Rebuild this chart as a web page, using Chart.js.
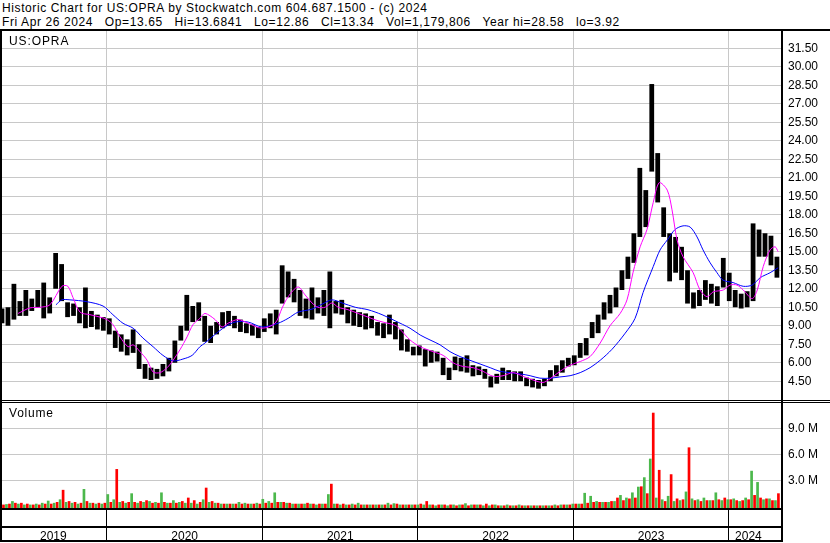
<!DOCTYPE html>
<html>
<head>
<meta charset="utf-8">
<script src="https://cdn.jsdelivr.net/npm/chart.js@4.4.1/dist/chart.umd.min.js"></script>
<style>
body { margin:0; background:#fff; width:830px; height:543px; overflow:hidden; position:relative;
       font-family:"Liberation Sans", Arial, sans-serif; font-size:12px; color:#000; }
.abs { position:absolute; letter-spacing:0.6px; }
#hdr { left:2px; top:1px; line-height:14px; white-space:pre; }
.ln { position:absolute; background:#000; }
canvas { position:absolute; left:0; }
</style>
</head>
<body>
<div id="hdr" class="abs">Historic Chart for US:OPRA by Stockwatch.com 604.687.1500 - (c) 2024
Fri Apr 26 2024   Op=13.65   Hi=13.6841   Lo=12.86   Cl=13.34   Vol=1,179,806   Year hi=28.58   lo=3.92</div>
<canvas id="price" width="830" height="369" style="top:31px"></canvas>
<canvas id="vol" width="830" height="139" style="top:403px"></canvas>
<div class="abs" style="left:9px;top:34px;letter-spacing:0.9px">US:OPRA</div>
<div class="abs" style="left:9px;top:406px;letter-spacing:0.8px">Volume</div>
<div class="ln" style="left:0;top:29px;width:830px;height:2px"></div>
<div class="ln" style="left:0;top:400px;width:830px;height:1px"></div>
<div class="ln" style="left:0;top:402px;width:830px;height:1px"></div>
<div class="ln" style="left:0;top:31px;width:2px;height:511px"></div>
<div class="ln" style="left:781px;top:31px;width:2px;height:511px"></div>
<div class="ln" style="left:0;top:508px;width:782px;height:2px"></div>
<div class="ln" style="left:0;top:526px;width:782px;height:2px"></div>
<div class="ln" style="left:0;top:540px;width:783px;height:2px"></div>
<script>
// one bar every 2 weeks, starting 2019-04-30
const priceLow = [9.2,9.0,9.5,9.8,9.8,10.2,10.5,9.6,10.0,12.0,
  11.0,9.7,9.8,9.2,8.8,8.9,8.7,8.6,8.3,7.2,
  6.9,6.6,6.8,5.5,4.7,4.6,4.7,4.9,5.3,6.0,
  7.8,8.6,9.3,9.4,7.7,7.6,8.3,8.8,9.0,8.8,
  8.5,8.4,8.2,8.0,8.5,8.8,8.3,10.8,11.3,10.9,
  9.8,9.6,9.5,10.0,9.8,8.8,10.0,9.9,9.2,9.0,
  8.9,8.7,8.8,8.2,8.0,8.3,7.9,7.0,6.9,6.6,
  6.6,5.7,6.0,6.1,5.0,4.6,5.4,5.3,5.2,4.9,
  5.0,4.7,4.0,4.3,4.6,4.6,4.5,4.5,4.1,4.0,
  3.9,4.1,4.5,4.9,5.2,5.7,5.8,6.4,6.6,8.0,
  8.4,9.5,10.0,10.5,11.9,12.8,14.1,16.2,17.0,21.5,
  19.0,16.2,12.6,13.3,12.7,10.8,10.4,10.6,11.1,10.8,
  10.6,12.1,11.0,10.5,10.4,10.5,11.0,14.6,14.6,13.9,
  12.9]
const priceHigh = [10.4,10.5,12.4,11.0,11.9,11.2,11.9,12.5,11.3,14.9,
  14.0,10.9,10.8,10.5,12.1,10.2,9.9,9.7,9.6,8.6,
  8.3,7.9,8.7,7.5,5.9,5.6,5.5,5.9,6.4,7.8,
  9.0,11.5,10.6,10.9,9.8,9.0,9.3,10.1,10.2,9.8,
  9.5,9.2,9.1,8.9,9.6,10.0,10.3,13.9,13.4,12.8,
  11.9,11.2,12.1,11.3,11.9,13.4,11.0,11.1,10.5,10.3,
  10.1,10.0,9.8,9.3,9.2,9.9,9.3,8.7,7.9,7.3,
  7.4,7.1,7.0,6.9,6.4,5.6,6.5,6.4,6.6,5.8,
  5.7,5.5,4.9,5.1,5.6,5.4,5.3,5.3,4.8,4.7,
  4.6,4.7,5.4,5.8,6.2,6.4,6.6,7.6,8.0,9.3,
  9.9,10.9,11.5,12.1,13.5,14.6,16.5,21.8,20.0,28.6,
  23.0,18.6,16.5,16.2,15.4,13.5,11.7,11.9,12.7,12.4,
  12.2,14.5,13.3,11.9,11.6,11.8,17.3,16.8,16.5,16.3,
  14.6]
const volUp = [.3,.25,.6,.3,.2,.2,.3,.4,.65,.4,
  .8,.5,.4,.3,2.0,.4,.3,.3,1.4,.8,
  .5,.4,1.5,.4,.5,.6,.5,1.6,.4,.7,
  .5,.4,.4,.3,.8,.5,.4,.3,.3,.3,
  .5,.4,.3,.4,.85,.6,1.6,.5,.4,.3,
  .3,.3,.3,.2,.3,1.4,.3,.2,.2,.3,
  .4,.2,.2,.2,.2,.4,.35,.2,.2,.2,
  .2,.2,.2,.1,.2,.1,.2,.2,.35,.2,
  .2,.1,.1,.2,.1,.2,.1,.2,.1,.1,
  .1,.1,.1,.2,.2,.2,.3,.3,1.55,1.2,
  .6,.5,.5,.6,1.3,1.0,1.6,2.26,3.35,5.5,
  1.0,.8,1.2,.6,.7,1.7,.9,.8,1.0,.7,
  1.6,.7,.8,.9,.6,1.0,4.1,2.8,.8,.9,
  .7]
const volDown = [.2,.3,.4,.4,.3,.2,.2,.3,.3,.5,
  1.9,.6,.5,.4,.6,.4,.4,.4,.5,4.3,
  .6,.5,.5,.6,.7,.4,.4,.5,.4,.4,
  .6,1.0,.7,.5,2.15,.6,.4,.3,.3,.3,
  .3,.3,.3,.3,.4,.4,.5,.5,.4,.3,
  .3,.4,.3,.3,.3,2.6,.3,.3,.2,.2,
  .2,.2,.2,.2,.2,.2,.3,.2,.2,.2,
  .3,.6,.2,.2,.2,.2,.1,.2,.1,.2,
  .2,.3,.2,.1,.1,.1,.1,.1,.1,.1,
  .1,.1,.1,.1,.2,.2,.3,.3,.4,.5,
  .5,.5,.6,1.0,.7,.9,1.0,2.3,1.5,10.8,
  4.2,.6,3.7,.9,.8,6.8,.7,.6,.7,.7,
  .8,1.0,.8,.7,.7,.8,1.3,1.0,.9,.7,
  1.5]
// moving averages, read at week positions
const pinkWeeks = [5.4,9.4,12.8,16.1,20.1,22.1,23.8,26.2,29.5,32.9,35.2,37.2,39.6,42.3,44.0,46.3,48.7,50.7,53.0,55.4,
  57.4,59.7,62.1,64.1,66.4,68.1,71.5,73.8,75.8,79.2,82.6,87.2,91.6,94.0,96.0,99.3,101.7,104.0,106.0,108.4,
  110.7,112.8,116.1,119.5,122.8,126.2,129.5,131.9,133.6,136.9,140.3,144.6,148.0,151.3,154.7,158.1,161.4,164.8,168.1,171.5,
  174.8,178.2,181.5,183.9,187.2,190.6,194.0,197.3,200.7,204.0,207.4,209.7,211.7,214.1,216.4,218.5,220.5,223.2,224.8,226.5,
  228.5,231.9,234.2,236.6,238.6,242.0,244.3,246.6,248.7,251.7,253.4,255.4,257.7,259.4,260.4]
const pinkVals = [10.0,10.45,10.5,10.7,12.2,12.2,11.3,10.1,9.9,9.7,9.5,9.1,8.1,7.3,7.45,6.9,6.2,5.25,5.2,5.6,
  6.2,7.05,8.1,9.1,9.6,10.0,9.5,8.9,9.2,9.5,9.2,8.8,9.2,10.45,11.35,12.15,11.5,10.85,10.5,10.5,
  10.85,10.5,10.3,10.0,9.7,9.4,9.2,9.05,8.7,7.85,7.3,6.9,6.6,6.0,5.7,5.6,5.3,4.9,4.95,5.2,
  4.9,4.6,4.4,4.7,5.3,5.8,6.1,6.5,7.6,9.0,10.0,11.1,13.3,15.4,16.8,19.0,20.6,20.0,18.4,15.95,
  14.6,13.3,11.9,11.35,11.75,11.9,12.3,12.3,11.9,11.2,11.9,13.8,15.15,15.4,15.0]
const blueWeeks = [18.1,20.1,22.8,28.5,33.9,37.2,40.6,44.0,47.3,50.7,54.0,57.4,60.7,63.8,66.4,68.1,71.5,74.8,78.2,82.6,
  87.2,92.6,96.0,99.3,104.0,107.4,110.7,114.1,118.5,122.8,127.5,131.9,136.9,140.3,143.6,147.0,150.3,153.7,157.0,160.4,
  163.8,167.1,170.5,173.8,177.2,180.5,183.9,187.2,190.6,194.0,197.3,200.7,204.7,209.1,212.4,215.1,218.5,220.8,223.2,225.8,
  228.5,230.9,233.2,235.2,237.6,239.9,241.9,245.3,248.7,251.7,254.4,257.7,260.4]
const blueVals = [10.7,11.1,11.1,10.95,10.6,9.9,9.2,8.8,8.0,7.3,6.6,6.15,6.3,6.6,7.3,7.6,8.3,8.9,9.3,9.3,
  8.9,9.2,9.6,10.1,10.35,10.75,11.1,10.85,10.5,10.3,9.9,9.4,8.8,8.25,7.85,7.45,6.9,6.5,6.2,5.9,
  5.6,5.3,5.2,5.1,4.95,4.75,4.75,4.85,4.95,5.2,5.6,6.2,7.1,8.4,9.6,11.7,13.8,15.15,15.95,16.8,
  17.1,17.0,16.2,15.15,14.1,13.3,12.7,12.5,12.2,12.3,12.9,13.3,13.7]
const priceTickVals = [4.5,6,7.5,9,10.5,12,13.5,15,16.5,18,19.5,21,22.5,24,25.5,27,28.5,30,31.5]
const volTickVals = [3,6,9]
const years = ['2019','2020','2021','2022','2023','2024']

const startDay = Date.UTC(2019, 3, 30)
const toWeek = d => (d - startDay) / (7 * 864e5)
const weeks = priceLow.map((_, i) => i * 2)
const yearStarts = [2020, 2021, 2022, 2023, 2024].map(y => toWeek(Date.UTC(y, 0, 1)))
const xMin = -0.67, xMax = 261.7
const lastWeek = weeks[weeks.length - 1]

var yearTicks = yearStarts.map(v => ({value: v}))
var labelTicks = years.map(function (y, i) {
    var a = i == 0 ? xMin : yearStarts[i - 1]
    var b = i < yearStarts.length ? yearStarts[i] : lastWeek - 3
    return {value: (a + b) / 2, year: y}
})
var stripTicks = yearTicks.concat(labelTicks).sort((p, q) => p.value - q.value)

const font = {family: 'Liberation Sans', size: 12}
const gridGray = '#c8c8c8'
Chart.defaults.font.family = 'Liberation Sans'

var priceCfg = {
    type: 'bar',
    data: {datasets: [
        {type: 'line', data: pinkWeeks.map((w, i) => ({x: w, y: pinkVals[i]})),
         borderColor: '#ff00ff', borderWidth: 1, pointRadius: 0, tension: 0.3, order: 1},
        {type: 'line', data: blueWeeks.map((w, i) => ({x: w, y: blueVals[i]})),
         borderColor: '#0000ff', borderWidth: 1, pointRadius: 0, tension: 0.3, order: 2},
        {type: 'bar', data: weeks.map((w, i) => ({x: w, y: [priceLow[i], priceHigh[i]]})),
         backgroundColor: '#000', barPercentage: 0.8, categoryPercentage: 1, order: 3},
    ]},
    options: {
        responsive: false, animation: false,
        layout: {padding: 0},
        plugins: {legend: {display: false}, tooltip: {enabled: false}},
        scales: {
            x: {type: 'linear', min: xMin, max: xMax, offset: false,
                afterBuildTicks: s => { s.ticks = yearTicks.map(t => ({value: t.value})) },
                afterFit: s => { s.height = 0; s.paddingLeft = 0; s.paddingRight = 0 },
                grid: {color: gridGray, drawTicks: false, offset: false},
                border: {display: false},
                ticks: {display: false}},
            y: {position: 'right', min: 2.98, max: 32.9,
                afterBuildTicks: s => { s.ticks = priceTickVals.map(v => ({value: v})) },
                afterFit: s => { s.width = 48; s.paddingTop = 0; s.paddingBottom = 0 },
                grid: {color: gridGray, drawTicks: false},
                border: {display: false},
                ticks: {padding: 6, font: font, color: '#000', callback: v => v.toFixed(2)}}
        }
    }
}

var volCfg = {
    type: 'bar',
    data: {datasets: [
        {data: weeks.map((w, i) => ({x: w, y: volUp[i]})), backgroundColor: '#4cb84c',
         base: -0.31, barPercentage: 0.9, categoryPercentage: 1},
        {data: weeks.map((w, i) => ({x: w, y: volDown[i]})), backgroundColor: '#ff0000',
         base: -0.31, barPercentage: 0.9, categoryPercentage: 1},
    ]},
    options: {
        responsive: false, animation: false,
        layout: {padding: 0},
        plugins: {legend: {display: false}, tooltip: {enabled: false}},
        scales: {
            x: {type: 'linear', min: xMin, max: xMax, offset: false,
                afterBuildTicks: s => { s.ticks = stripTicks.map(t => Object.assign({}, t)) },
                afterFit: s => { s.height = 33; s.paddingLeft = 0; s.paddingRight = 0 },
                grid: {offset: false, tickLength: 33, drawTicks: true,
                       color: c => (c.tick && c.tick.year) ? 'rgba(0,0,0,0)' : gridGray,
                       tickColor: c => (c.tick && c.tick.year) ? 'rgba(0,0,0,0)' : '#000'},
                border: {display: false},
                ticks: {autoSkip: false, maxRotation: 0, padding: -13, font: font, color: '#000',
                        callback: (v, i, t) => t[i].year || ''}},
            y: {position: 'right', min: -0.31, max: 11.92,
                afterBuildTicks: s => { s.ticks = volTickVals.map(v => ({value: v})) },
                afterFit: s => { s.width = 48; s.paddingTop = 0; s.paddingBottom = 0 },
                grid: {color: gridGray, drawTicks: false},
                border: {display: false},
                ticks: {padding: 6, font: font, color: '#000', callback: v => v.toFixed(1) + ' M'}}
        }
    }
}

new Chart(document.getElementById('price'), priceCfg)
new Chart(document.getElementById('vol'), volCfg)
</script>
</body>
</html>
